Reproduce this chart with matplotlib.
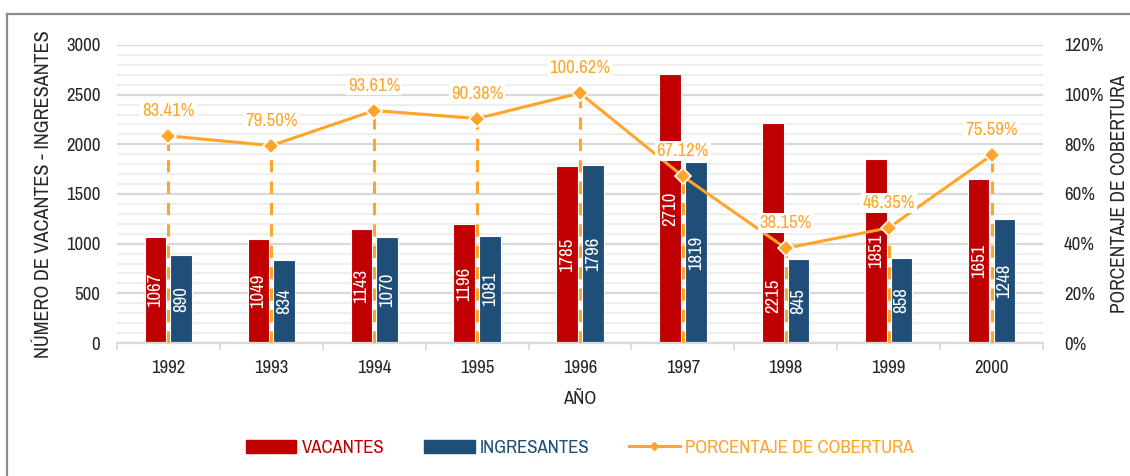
import numpy as np
import matplotlib
matplotlib.use("Agg")
import matplotlib.pyplot as plt
from matplotlib.ticker import MultipleLocator, FuncFormatter
from matplotlib.lines import Line2D
from matplotlib.patches import Patch
from matplotlib import font_manager

# data
years = ["1992", "1993", "1994", "1995", "1996", "1997", "1998", "1999", "2000"]
vacantes = [1067, 1049, 1143, 1196, 1785, 2710, 2215, 1851, 1651]
ingresantes = [890, 834, 1070, 1081, 1796, 1819, 845, 858, 1248]
cobertura = [83.41, 79.50, 93.61, 90.38, 100.62, 67.12, 38.15, 46.35, 75.59]

RED = "#C00000"
BLUE = "#1F4E79"
ORANGE = "#FFA52A"
TXT = "#262626"

# narrow font like Arial Narrow
names = {f.name for f in font_manager.fontManager.ttflist}
family = "DejaVu Sans"
for cand in ["Liberation Sans Narrow", "Arial Narrow", "Archivo Narrow", "Roboto Condensed"]:
    if cand in names:
        family = cand
        break
plt.rcParams["font.family"] = [family, "DejaVu Sans"]

FS = 13.5

fig = plt.figure(figsize=(11.30, 4.76), dpi=100)
ax = fig.add_axes([0.1035, 0.2794, 0.8195, 0.6261])
ax2 = ax.twinx()

x = np.arange(len(years))
w = 0.21
off = 0.125

# grid
ax.set_ylim(0, 3000)
ax.yaxis.set_major_locator(MultipleLocator(500))
ax.yaxis.set_minor_locator(MultipleLocator(100))
ax.grid(axis="y", which="major", color="#D9D9D9", lw=1.6, zorder=0)
ax.grid(axis="y", which="minor", color="#EFEFEF", lw=1.6, zorder=0)
ax.set_axisbelow(True)

b1 = ax.bar(x - off, vacantes, w, color=RED, edgecolor="white", lw=0.8, zorder=2)
b2 = ax.bar(x + off, ingresantes, w, color=BLUE, edgecolor="white", lw=0.8, zorder=2)

# value labels centred in bars; a label that would run into the
# percentage label above it is pushed down towards the base
for bars, vals in ((b1, vacantes), (b2, ingresantes)):
    for i, (r, v) in enumerate(zip(bars, vals)):
        yl = v / 2
        pct_bottom = cobertura[i] * 25 + 130
        if yl + 230 > pct_bottom:
            yl = 480
        ax.text(r.get_x() + r.get_width() / 2, yl, str(v), rotation=90,
                ha="center", va="center", color="white", fontsize=FS, zorder=3)

ax.set_xlim(-0.5, len(years) - 0.5)
ax.set_xticks(x)
ax.set_xticklabels(years)
ax.set_xticks(np.arange(-0.5, len(years)), minor=True)
ax.tick_params(axis="x", which="major", length=0, pad=12, labelsize=FS, labelcolor=TXT)
ax.tick_params(axis="x", which="minor", length=5, width=1.2, color="#D9D9D9")
ax.tick_params(axis="y", which="both", length=0, pad=12, labelsize=FS, labelcolor=TXT)
for s in ("top", "left", "right"):
    ax.spines[s].set_visible(False)
ax.spines["bottom"].set_color("#D9D9D9")
ax.spines["bottom"].set_linewidth(1.6)

ax.set_xlabel("AÑO", fontsize=FS, color=TXT, labelpad=11)
ax.set_ylabel("NÚMERO DE VACANTES - INGRESANTES", fontsize=14.5, color=TXT, labelpad=9)

# percentage line
ax2.set_ylim(0, 120)
ax2.yaxis.set_major_locator(MultipleLocator(20))
ax2.yaxis.set_major_formatter(FuncFormatter(lambda v, p: f"{v:.0f}%"))
ax2.tick_params(axis="y", length=0, pad=15, labelsize=FS, labelcolor=TXT)
for s in ("top", "left", "right", "bottom"):
    ax2.spines[s].set_visible(False)
ax2.set_ylabel("PORCENTAJE DE COBERTURA", fontsize=14, color=TXT, labelpad=5)

ax2.vlines(x, 0, cobertura, colors=ORANGE, linestyles=(0, (4, 3)), lw=2.2, zorder=3)
ax2.plot(x, cobertura, color=ORANGE, lw=2.2, marker="D", ms=8,
         mec="white", mew=1.2, zorder=4)
for xi, v in zip(x, cobertura):
    ax2.annotate(f"{v:.2f}%", (xi, v), xytext=(0, 18), textcoords="offset points",
                 ha="center", va="center", color=ORANGE, fontsize=FS, zorder=5,
                 bbox=dict(boxstyle="square,pad=0.1", fc="white", ec="none"))

# legend
handles = [Patch(color=RED), Patch(color=BLUE),
           Line2D([0], [0], color=ORANGE, lw=2.2, marker="D", ms=4)]
labels = ["VACANTES", "INGRESANTES", "PORCENTAJE DE COBERTURA"]
leg = fig.legend(handles, labels, loc="center", bbox_to_anchor=(0.513, 0.059), ncol=3,
                 frameon=False, fontsize=FS, handlelength=2.7, handleheight=0.7,
                 handletextpad=0.3, columnspacing=2.1)
for t, c in zip(leg.get_texts(), [RED, BLUE, ORANGE]):
    t.set_color(c)

# outer frame (left and top edges visible)
fig.add_artist(Line2D([7 / 1130, 7 / 1130], [0, 1 - 14 / 476], transform=fig.transFigure,
                      color="#8C8C8C", lw=1.6))
fig.add_artist(Line2D([7 / 1130, 1], [1 - 14 / 476, 1 - 14 / 476], transform=fig.transFigure,
                      color="#8C8C8C", lw=1.6))

fig.savefig("out.png", dpi=100)
